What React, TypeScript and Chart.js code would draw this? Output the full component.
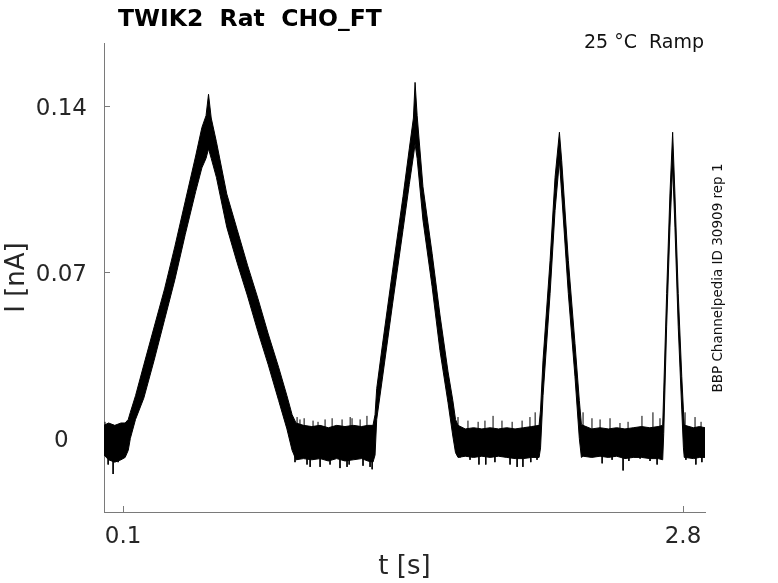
import { useEffect, useRef } from "react";
import { Chart, registerables } from "chart.js";

Chart.register(...registerables);

const traceTime = [
  0.008, 0.03, 0.06, 0.09, 0.11,
  0.125, 0.135, 0.16, 0.2, 0.25, 0.3, 0.35, 0.4, 0.45, 0.48, 0.5, 0.512, 0.525, 0.55,
  0.6, 0.65, 0.7, 0.75, 0.8, 0.85, 0.89, 0.915,
  0.934, 0.97, 1.01, 1.05, 1.09, 1.13, 1.17, 1.21, 1.25, 1.28, 1.305,
  1.315, 1.323, 1.35, 1.4, 1.45, 1.48, 1.5, 1.508, 1.518, 1.546, 1.59, 1.628, 1.667, 1.69, 1.703,
  1.715, 1.75, 1.79, 1.83, 1.87, 1.91, 1.95, 1.99, 2.03, 2.07, 2.106,
  2.113, 2.125, 2.159, 2.183, 2.204, 2.215, 2.247, 2.279, 2.3, 2.31,
  2.318, 2.36, 2.4, 2.44, 2.48, 2.52, 2.56, 2.6, 2.64, 2.68, 2.702,
  2.707, 2.721, 2.737, 2.75, 2.761, 2.777, 2.794, 2.802, 2.806,
  2.81, 2.85, 2.88, 2.906,
];

const traceUpper = [
  0.0055, 0.0065, 0.0055, 0.0065, 0.0065,
  0.008, 0.011, 0.018, 0.031, 0.047, 0.063, 0.081, 0.1, 0.119, 0.131, 0.136, 0.145, 0.135, 0.125,
  0.103, 0.088, 0.073, 0.059, 0.044, 0.03, 0.018, 0.01,
  0.0065, 0.0055, 0.005, 0.0055, 0.0045, 0.0055, 0.005, 0.0055, 0.005, 0.0055, 0.0055,
  0.01, 0.021, 0.039, 0.071, 0.102, 0.122, 0.135, 0.15, 0.136, 0.106, 0.078, 0.052, 0.028, 0.016, 0.008,
  0.0055, 0.004, 0.0045, 0.004, 0.0045, 0.004, 0.0045, 0.004, 0.0045, 0.005, 0.0055,
  0.012, 0.033, 0.075, 0.11, 0.129, 0.117, 0.075, 0.04, 0.016, 0.006,
  0.0055, 0.004, 0.0045, 0.004, 0.0045, 0.004, 0.0045, 0.005, 0.0045, 0.005, 0.0055,
  0.02, 0.061, 0.103, 0.129, 0.103, 0.061, 0.026, 0.012, 0.006,
  0.0055, 0.0045, 0.005, 0.0045,
];

const traceLower = [
  -0.007, -0.009, -0.01, -0.009, -0.008,
  -0.005, 0.0, 0.008, 0.017, 0.033, 0.05, 0.067, 0.086, 0.104, 0.114, 0.118, 0.122, 0.118, 0.11,
  0.089, 0.074, 0.06, 0.045, 0.031, 0.016, 0.004, -0.005,
  -0.009, -0.0085, -0.009, -0.0085, -0.0095, -0.0085, -0.0095, -0.009, -0.0085, -0.0095, -0.01,
  -0.007, 0.008, 0.025, 0.057, 0.088, 0.107, 0.119, 0.124, 0.118, 0.092, 0.064, 0.037, 0.015, 0.001, -0.006,
  -0.008, -0.0075, -0.008, -0.0075, -0.008, -0.0075, -0.008, -0.0085, -0.0085, -0.008, -0.008,
  -0.004, 0.018, 0.061, 0.096, 0.117, 0.103, 0.061, 0.026, 0.0, -0.008,
  -0.0075, -0.008, -0.0075, -0.008, -0.0075, -0.0085, -0.008, -0.008, -0.0085, -0.0085, -0.009,
  0.002, 0.047, 0.089, 0.115, 0.089, 0.047, 0.012, -0.004, -0.008,
  -0.008, -0.0085, -0.008, -0.008,
];

// Isolated noise spikes sticking out of the baseline band
const spikeTime = [
  0.013, 0.028, 0.052, 0.076,
  0.92, 0.939, 0.953, 0.973, 1.016, 1.04, 1.074, 1.108, 1.156, 1.195, 1.204, 1.243, 1.276,
  0.929, 0.987, 1.002, 1.05, 1.098, 1.146, 1.18, 1.19, 1.257, 1.291, 1.301,
  1.715, 1.763, 1.812, 1.845, 1.884, 1.927, 1.976, 2.024, 2.062, 2.087,
  1.725, 1.773, 1.816, 1.849, 1.893, 1.966, 2.0, 2.028, 2.066, 2.096,
  2.318, 2.361, 2.4, 2.448, 2.496, 2.535, 2.602, 2.655, 2.689,
  2.322, 2.41, 2.458, 2.511, 2.539, 2.593, 2.641, 2.675,
  2.81, 2.858, 2.887,
  2.814, 2.862, 2.891,
];

const spikeValue = [
  0.007, -0.011, -0.015, -0.01,
  0.008, 0.009, 0.008, 0.0085, 0.0075, 0.007, 0.008, 0.0085, 0.008, 0.009, 0.0085, 0.008, 0.0095,
  -0.01, -0.011, -0.012, -0.012, -0.011, -0.0125, -0.012, -0.011, -0.0115, -0.012, -0.013,
  0.009, 0.0075, 0.007, 0.0075, 0.0095, 0.0075, 0.007, 0.0075, 0.009, 0.011,
  -0.008, -0.009, -0.011, -0.011, -0.01, -0.011, -0.012, -0.012, -0.01, -0.009,
  0.011, 0.0085, 0.008, 0.0085, 0.0065, 0.007, 0.0095, 0.011, 0.0085,
  -0.0065, -0.0105, -0.009, -0.0135, -0.0095, -0.0085, -0.0095, -0.011,
  0.011, 0.009, 0.007,
  -0.009, -0.011, -0.01,
];

const xTicks = [0.1, 2.8];
const xTickLabels = ["0.1", "2.8"];
const yTicks = [0, 0.07, 0.14];
const yTickLabels = ["0", "0.07", "0.14"];

const titleText = "TWIK2  Rat  CHO_FT";
const conditionText = "25 °C  Ramp";
const sideText = "BBP Channelpedia ID 30909 rep 1";

const FONT = '"DejaVu Sans", sans-serif';
const AXIS_COLOR = "#7a7a7a";
const LABEL_COLOR = "#262626";

const annotations = {
  id: "annotations",
  afterDraw(chart: Chart) {
    const ctx = chart.ctx;
    ctx.save();
    ctx.fillStyle = "#000";
    ctx.textBaseline = "alphabetic";

    ctx.font = `bold 23.5px ${FONT}`;
    ctx.textAlign = "left";
    ctx.fillText(titleText, 118, 26);

    ctx.font = `19px ${FONT}`;
    ctx.fillStyle = "#111";
    ctx.textAlign = "right";
    ctx.fillText(conditionText, 704, 48);

    ctx.font = `13.5px ${FONT}`;
    ctx.translate(722, 278);
    ctx.rotate(-Math.PI / 2);
    ctx.textAlign = "center";
    ctx.fillText(sideText, 0, 0);
    ctx.restore();
  },
};

export default function App() {
  const canvasRef = useRef<HTMLCanvasElement>(null);

  useEffect(() => {
    if (!canvasRef.current) return;

    const lower = traceTime.map((t, i) => ({ x: t, y: traceLower[i] }));
    const upper = traceTime.map((t, i) => ({ x: t, y: traceUpper[i] }));
    // each spike is a short vertical stroke from the band centre, separated by gaps
    const spikes = spikeTime.flatMap((t, i) => [
      { x: t, y: 0 },
      { x: t, y: spikeValue[i] },
      { x: t, y: null },
    ]);

    const chart = new Chart(canvasRef.current, {
      type: "line",
      data: {
        datasets: [
          {
            label: "lower",
            data: lower,
            borderColor: "#000",
            borderWidth: 1,
            pointRadius: 0,
            tension: 0,
            fill: false,
          },
          {
            label: "upper",
            data: upper,
            borderColor: "#000",
            backgroundColor: "#000",
            borderWidth: 1,
            pointRadius: 0,
            tension: 0,
            fill: "-1",
          },
          {
            label: "spikes",
            data: spikes,
            borderColor: "#000",
            borderWidth: 1,
            pointRadius: 0,
            spanGaps: false,
            fill: false,
          },
        ],
      },
      options: {
        animation: false,
        responsive: true,
        maintainAspectRatio: false,
        layout: { padding: { left: 0, top: 43, right: 73, bottom: 0 } },
        plugins: {
          legend: { display: false },
          tooltip: { enabled: false },
        },
        scales: {
          x: {
            type: "linear",
            position: "bottom",
            min: 0.008,
            max: 2.906,
            afterBuildTicks: (scale) => {
              scale.ticks = xTicks.map((value) => ({ value }));
            },
            afterFit: (scale) => {
              scale.height = 71;
            },
            grid: { drawOnChartArea: false, tickLength: -6, color: AXIS_COLOR },
            border: { color: AXIS_COLOR },
            ticks: {
              autoSkip: false,
              maxRotation: 0,
              padding: 17,
              color: LABEL_COLOR,
              font: { family: FONT, size: 23 },
              callback: (value) => xTickLabels[xTicks.indexOf(Number(value))] ?? "",
            },
            title: {
              display: true,
              text: "t [s]",
              color: LABEL_COLOR,
              font: { family: FONT, size: 26 },
              padding: { top: 0, bottom: 0.4 },
            },
          },
          y: {
            type: "linear",
            position: "left",
            min: -0.031,
            max: 0.1666,
            afterBuildTicks: (scale) => {
              scale.ticks = yTicks.map((value) => ({ value }));
            },
            afterFit: (scale) => {
              scale.width = 104;
            },
            grid: { drawOnChartArea: false, tickLength: -6, color: AXIS_COLOR },
            border: { color: AXIS_COLOR },
            ticks: {
              crossAlign: "center",
              padding: 23,
              labelOffset: 3,
              color: LABEL_COLOR,
              font: { family: FONT, size: 23 },
              callback: (value) => yTickLabels[yTicks.indexOf(Number(value))] ?? "",
            },
            title: {
              display: true,
              text: "I [nA]",
              color: LABEL_COLOR,
              font: { family: FONT, size: 26 },
              padding: { top: 1.4, bottom: 0 },
            },
          },
        },
      },
      plugins: [annotations],
    });

    return () => {
      chart.destroy();
    };
  }, []);

  return (
    <div style={{ position: "fixed", left: 0, top: 0, width: 778, height: 583, background: "#fff" }}>
      <canvas ref={canvasRef} />
    </div>
  );
}
